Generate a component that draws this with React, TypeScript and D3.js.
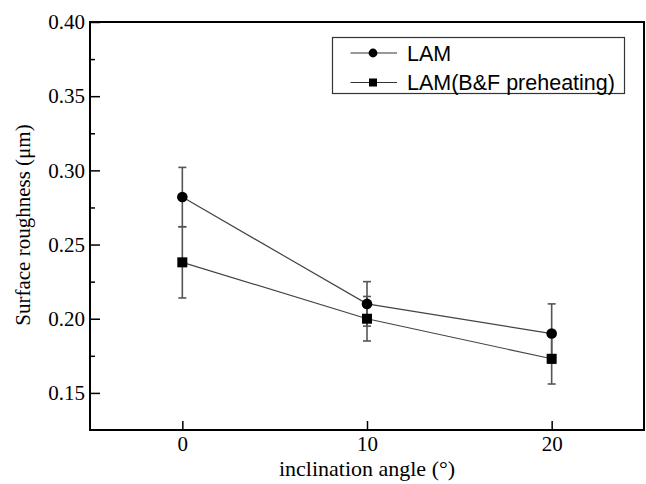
import { useEffect, useRef } from "react";
import * as d3 from "d3";

// data
const angles = [0, 10, 20];
const lamValues = [0.282, 0.21, 0.19];
const lamErrors = [0.02, 0.015, 0.02];
const bfValues = [0.238, 0.2, 0.173];
const bfErrors = [0.024, 0.015, 0.017];
const seriesNames = ["LAM", "LAM(B&F preheating)"];
const xTicks = [0, 10, 20];
const yTicks = [0.15, 0.2, 0.25, 0.3, 0.35, 0.4];
const yMinorTicks = [0.175, 0.225, 0.275, 0.325, 0.375];

const App = () => {
  const svgRef = useRef<SVGSVGElement | null>(null);

  useEffect(() => {
    const width = 646;
    const height = 484;
    const margin = { top: 22, right: 2, bottom: 54, left: 90 };
    const innerWidth = width - margin.left - margin.right;
    const innerHeight = height - margin.top - margin.bottom;

    const svg = d3.select(svgRef.current);
    svg.selectAll("*").remove();

    const g = svg
      .append("g")
      .attr("transform", `translate(${margin.left}, ${margin.top})`);

    const xScale = d3.scaleLinear().domain([-5, 25]).range([0, innerWidth]);
    const yScale = d3.scaleLinear().domain([0.125, 0.4]).range([innerHeight, 0]);

    const serif = "'Liberation Serif', 'Times New Roman', serif";
    const sans = "'Liberation Sans', Arial, sans-serif";

    // x axis (ticks point inward)
    const xAxis = g
      .append("g")
      .attr("transform", `translate(0, ${innerHeight})`)
      .call(
        d3
          .axisBottom(xScale)
          .tickValues(xTicks)
          .tickSizeInner(-9)
          .tickSizeOuter(0)
          .tickPadding(6)
          .tickFormat(d3.format("d"))
      );
    xAxis.select(".domain").remove();
    xAxis.selectAll("line").attr("stroke", "#000").attr("stroke-width", 1.5);
    xAxis
      .selectAll("text")
      .attr("fill", "#000")
      .style("font-family", serif)
      .style("font-size", "21px");

    // y axis
    const yAxis = g
      .append("g")
      .call(
        d3
          .axisLeft(yScale)
          .tickValues(yTicks)
          .tickSizeInner(-10)
          .tickSizeOuter(0)
          .tickPadding(5)
          .tickFormat(d3.format(".2f"))
      );
    yAxis.select(".domain").remove();
    yAxis.selectAll("line").attr("stroke", "#000").attr("stroke-width", 1.5);
    yAxis
      .selectAll("text")
      .attr("fill", "#000")
      .style("font-family", serif)
      .style("font-size", "21px");

    const yMinor = g
      .append("g")
      .call(d3.axisLeft(yScale).tickValues(yMinorTicks).tickSizeInner(-5).tickSizeOuter(0).tickFormat(() => ""));
    yMinor.select(".domain").remove();
    yMinor.selectAll("line").attr("stroke", "#000").attr("stroke-width", 1.5);

    // frame
    g.append("rect")
      .attr("width", innerWidth)
      .attr("height", innerHeight)
      .attr("fill", "none")
      .attr("stroke", "#000")
      .attr("stroke-width", 2);

    const series = [
      { values: lamValues, errors: lamErrors, shape: "circle" },
      { values: bfValues, errors: bfErrors, shape: "square" },
    ];

    const line = d3
      .line<number>()
      .x((_, i) => xScale(angles[i]))
      .y((d) => yScale(d));

    series.forEach((s) => {
      g.append("path")
        .attr("d", line(s.values))
        .attr("fill", "none")
        .attr("stroke", "#444")
        .attr("stroke-width", 1.2);
    });

    // error bars
    series.forEach((s) => {
      const eb = g.append("g").attr("stroke", "#555").attr("stroke-width", 1.6);
      s.values.forEach((v, i) => {
        const x = xScale(angles[i]);
        const y1 = yScale(v + s.errors[i]);
        const y2 = yScale(v - s.errors[i]);
        eb.append("line").attr("x1", x).attr("x2", x).attr("y1", y1).attr("y2", y2);
        [y1, y2].forEach((y) =>
          eb.append("line").attr("x1", x - 4).attr("x2", x + 4).attr("y1", y).attr("y2", y)
        );
      });
    });

    // markers
    series.forEach((s) => {
      s.values.forEach((v, i) => {
        const x = xScale(angles[i]);
        const y = yScale(v);
        if (s.shape === "circle") {
          g.append("circle").attr("cx", x).attr("cy", y).attr("r", 5.3).attr("fill", "#000");
        } else {
          g.append("rect").attr("x", x - 5).attr("y", y - 5).attr("width", 10).attr("height", 10).attr("fill", "#000");
        }
      });
    });

    // legend
    const legend = svg.append("g").attr("transform", "translate(332.5, 37.5)");
    legend
      .append("rect")
      .attr("width", 292)
      .attr("height", 56)
      .attr("fill", "#fff")
      .attr("stroke", "#333")
      .attr("stroke-width", 1.2);
    seriesNames.forEach((name, i) => {
      const y = 15.5 + i * 29.5;
      legend
        .append("line")
        .attr("x1", 18)
        .attr("x2", 64.5)
        .attr("y1", y)
        .attr("y2", y)
        .attr("stroke", "#333")
        .attr("stroke-width", 1.2);
      if (i === 0) {
        legend.append("circle").attr("cx", 40.5).attr("cy", y).attr("r", 4.4).attr("fill", "#000");
      } else {
        legend.append("rect").attr("x", 36.5).attr("y", y - 4).attr("width", 8).attr("height", 8).attr("fill", "#000");
      }
      legend
        .append("text")
        .attr("x", 74.5)
        .attr("y", y + 7.5)
        .attr("fill", "#000")
        .style("font-family", sans)
        .style("font-size", "21.5px")
        .text(name);
    });

    // axis titles
    svg
      .append("text")
      .attr("x", margin.left + xScale(10))
      .attr("y", 476)
      .attr("text-anchor", "middle")
      .style("font-family", serif)
      .style("font-size", "22px")
      .text("inclination angle (°)");

    svg
      .append("text")
      .attr("transform", "translate(30, 225) rotate(-90)")
      .attr("text-anchor", "middle")
      .style("font-family", serif)
      .style("font-size", "21px")
      .text("Surface roughness (μm)");
  }, []);

  return (
    <svg
      ref={svgRef}
      width={646}
      height={484}
      style={{ position: "absolute", left: 0, top: 0, background: "#fff" }}
    />
  );
};

export default App;
